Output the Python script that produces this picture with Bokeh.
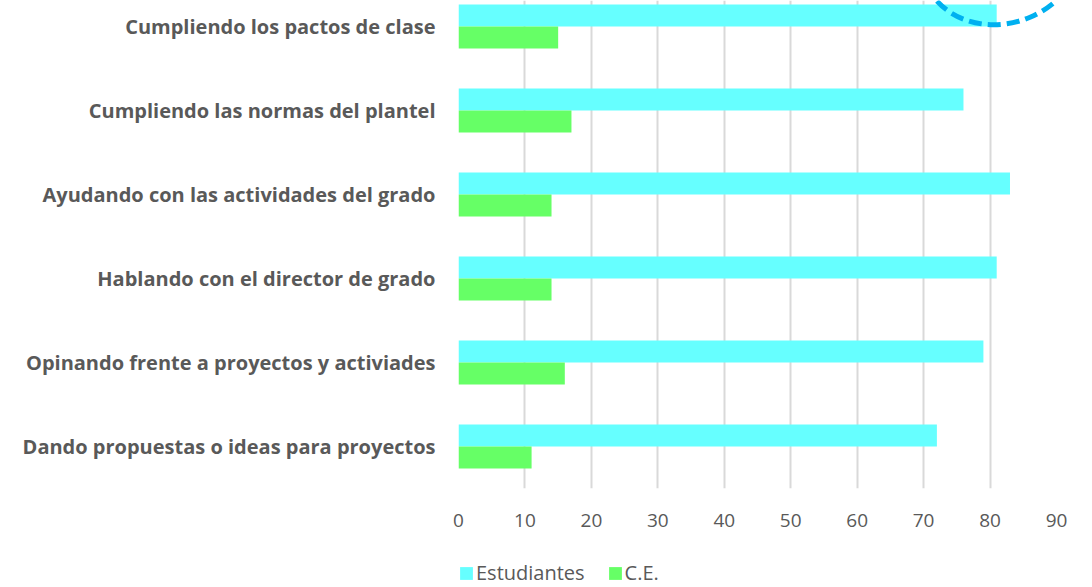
from bokeh.plotting import figure
from bokeh.models import ColumnDataSource, Range1d, FixedTicker, Legend, LegendItem
from bokeh.layouts import column
from bokeh.embed import file_html
from bokeh.resources import INLINE

# bottom to top
categories = [
    "Dando propuestas o ideas para proyectos",
    "Opinando frente a proyectos y activiades",
    "Hablando con el director de grado",
    "Ayudando con las actividades del grado",
    "Cumpliendo las normas del plantel",
    "Cumpliendo los pactos de clase",
]
estudiantes = [72, 79, 81, 83, 76, 81]
ce = [11, 16, 14, 14, 17, 15]
series_names = ["Estudiantes", "C.E."]
series_colors = ["#66FFFF", "#66FF66"]
x_ticks = [0, 10, 20, 30, 40, 50, 60, 70, 80, 90]

TEXT = "#595959"
pos = list(range(len(categories)))
bar_h = 0.262
src = ColumnDataSource(dict(
    y_est=[p + bar_h / 2 for p in pos],
    y_ce=[p - bar_h / 2 for p in pos],
    est=estudiantes,
    ce=ce,
))

p = figure(width=1092, height=548, output_backend="svg", toolbar_location=None,
           x_range=Range1d(0, 90), y_range=Range1d(-0.5, 5.31),
           min_border_left=458, min_border_right=36, min_border_top=0,
           min_border_bottom=60)
p.outline_line_color = None
p.background_fill_color = "white"

p.hbar(y="y_est", left=0, right="est", height=bar_h, source=src,
       fill_color=series_colors[0], line_color=None)
p.hbar(y="y_ce", left=0, right="ce", height=bar_h, source=src,
       fill_color=series_colors[1], line_color=None)

# annotation shape (dashed tilted ellipse, only partly visible at top right)
p.ellipse(x=[81.8], y=[5.90], width=166, height=144,
          width_units="screen", height_units="screen", angle=0.40,
          fill_color=None, line_color="#00B0F0", line_width=5,
          line_dash="13 6")

# axes
p.xaxis.ticker = FixedTicker(ticks=x_ticks)
p.xaxis.axis_line_color = None
p.xaxis.major_tick_line_color = None
p.xaxis.minor_tick_line_color = None
p.xaxis.major_label_standoff = 19
p.xaxis.major_label_text_font = "Open Sans"
p.xaxis.major_label_text_font_size = "19px"
p.xaxis.major_label_text_color = TEXT

p.yaxis.ticker = FixedTicker(ticks=pos)
p.yaxis.major_label_overrides = {i: c for i, c in zip(pos, categories)}
p.yaxis.axis_line_color = None
p.yaxis.major_tick_line_color = None
p.yaxis.minor_tick_line_color = None
p.yaxis.major_label_standoff = 17
p.yaxis.major_label_text_font = "Open Sans"
p.yaxis.major_label_text_font_style = "bold"
p.yaxis.major_label_text_font_size = "20px"
p.yaxis.major_label_text_color = TEXT

p.xgrid.ticker = FixedTicker(ticks=x_ticks)
p.xgrid.grid_line_color = "#D9D9D9"
p.xgrid.grid_line_width = 2
p.ygrid.grid_line_color = None

# legend strip below the chart
p2 = figure(width=1092, height=39, output_backend="svg", toolbar_location=None,
            x_range=Range1d(0, 1), y_range=Range1d(0, 1),
            x_axis_type=None, y_axis_type=None,
            min_border_left=450, min_border_right=0,
            min_border_top=11, min_border_bottom=0)
p2.outline_line_color = None
p2.xgrid.grid_line_color = None
p2.ygrid.grid_line_color = None
items = []
for name, col in zip(series_names, series_colors):
    # legend proxy: a zero-length bar kept outside the visible range
    r = p2.hbar(y=[-10], right=[0], left=0, height=1, fill_color=col, line_color=None)
    items.append(LegendItem(label=name, renderers=[r]))
legend = Legend(items=items, orientation="horizontal", location="top_left")
legend.glyph_width = 16
legend.glyph_height = 16
legend.label_standoff = 2
legend.spacing = 22
legend.padding = 0
legend.margin = 0
legend.border_line_color = None
legend.background_fill_alpha = 0
legend.label_text_font = "Open Sans"
legend.label_text_font_size = "20px"
legend.label_text_color = TEXT
p2.add_layout(legend, "center")

layout = column(p, p2, spacing=0)
open("out.html", "w").write(file_html(layout, INLINE))
